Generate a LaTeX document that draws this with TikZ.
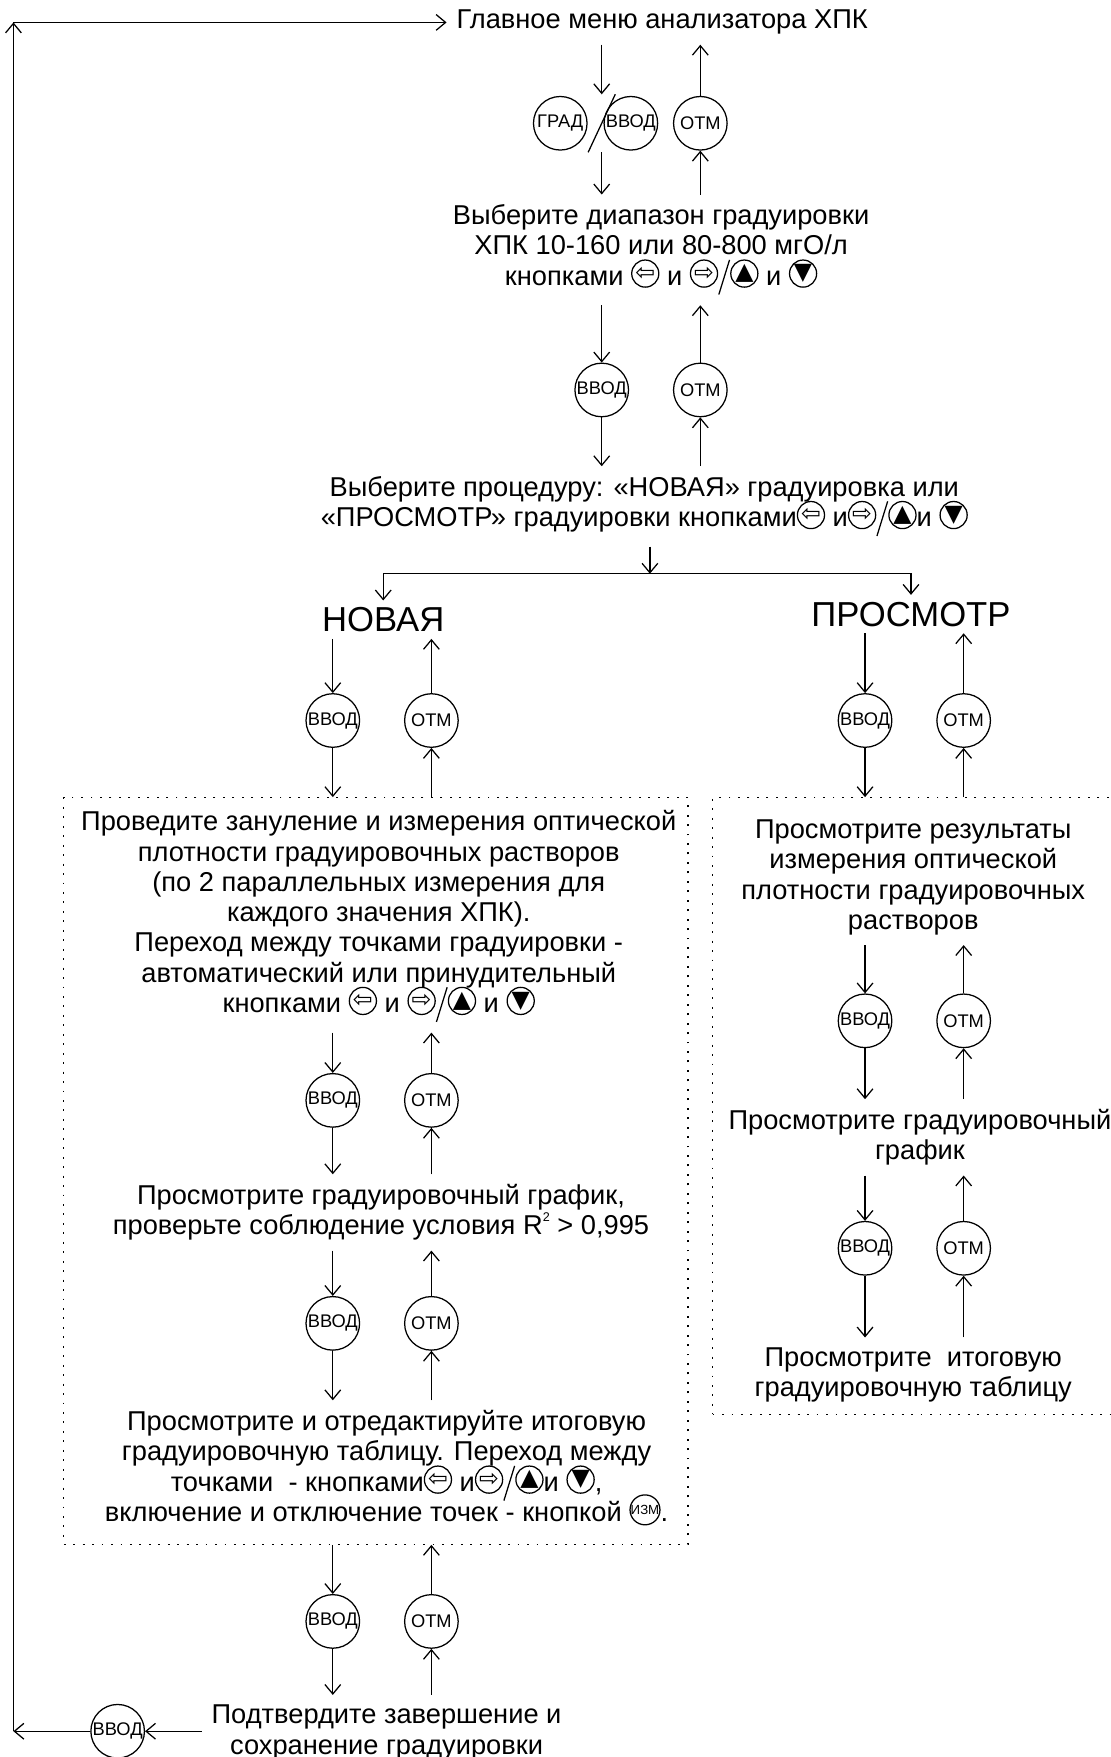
\documentclass[tikz,border=0pt]{standalone}
\usepackage{fontspec}
\setmainfont{Liberation Sans}
\newfontfamily\symfont{DejaVu Sans}
\usetikzlibrary{arrows.meta}
\newcommand\tightlines{\lineskiplimit=-10pt\relax}

\tikzset{
  txt/.style={align=center,inner sep=3pt,font=\fontsize{8.65}{9.6}\selectfont\tightlines},
  big/.style={inner sep=2pt,font=\fontsize{11}{13}\selectfont},
  key/.style={circle,draw,inner sep=0pt,minimum size=17pt,font=\fontsize{5.8}{6}\selectfont},
  frame/.style={draw,dash pattern=on 0.6pt off 2.4pt,inner sep=0pt},
  fl/.style={-{Straight Barb[length=3pt,width=5pt]}},
}
% inline buttons
\newcommand\kb[1]{\tikz[baseline=-0.8ex]\node[circle,draw,inner sep=0pt,minimum size=8.6pt,font=\symfont\fontsize{7.5}{7.5}\selectfont]{#1};}
\newcommand\kslash{\tikz[baseline=0pt]\draw (0pt,-3pt) -- (3.4pt,8pt);}
\newcommand\izm{\tikz[baseline=-0.8ex]\node[circle,draw,inner sep=0pt,minimum size=8pt,font=\fontsize{4.2}{4.2}\selectfont]{ИЗМ};}

\begin{document}
\begin{tikzpicture}[x=0.0125cm,y=-0.0125cm]
\useasboundingbox (0,0) rectangle (991,1568);
% top
\node[txt] (t0) at (591,20) {Главное меню анализатора ХПК};
\node[key] (c0a) at (500,110) {ГРАД};
\node[key] (c0b) at (563,110) {ВВОД};
\node[key] (c0c) at (625,110) {ОТМ};
\node[minimum width=8.2pt,minimum height=18pt,inner sep=0pt] (sw) at (537,110) {};
\draw (sw.south west) -- (sw.north east);
\node[txt] (t1) at (590,223) {Выберите диапазон градуировки\\ХПК 10-160 или 80-800 мгО/л\\кнопками \kb{⇦} и \kb{⇨}\kslash\kb{▲} и \kb{▼}};
\draw[fl] (t0.south -| sw) -- (sw.north);
\draw[fl] (sw.south) -- (t1.north -| sw);
\draw[fl] (t1.north -| c0c) -- (c0c);
\draw[fl] (c0c) -- (t0.south -| c0c);
\node[key] (c1a) at (537,348) {ВВОД};
\node[key] (c1b) at (625,348) {ОТМ};
\node[txt] (t2) at (575,452) {Выберите процедуру: «НОВАЯ» градуировка или\\«ПРОСМОТР» градуировки кнопками\kb{⇦} и\kb{⇨}\kslash\kb{▲}и \kb{▼}};
\draw[fl] (t1.south -| c1a) -- (c1a);
\draw[fl] (c1a) -- (t2.north -| c1a);
\draw[fl] (t2.north -| c1b) -- (c1b);
\draw[fl] (c1b) -- (t1.south -| c1b);
% branch
\coordinate (br) at (580,512);
\node[big] (n1) at (342,553) {НОВАЯ};
\node[big] (p1) at (813,548) {ПРОСМОТР};
\draw[fl] (t2.south -| br) -- (br);
\draw[fl] (br) -| (n1);
\draw[fl] (br) -| (p1);
% left column
\node[key] (c2a) at (297,643) {ВВОД};
\node[key] (c2b) at (385,643) {ОТМ};
\node[frame,minimum width=6.9625cm,minimum height=8.325cm] (b1) at (335.5,1045) {};
\draw[fl] (n1.south -| c2a) -- (c2a);
\draw[fl] (c2a) -- (b1.north -| c2a);
\draw[fl] (b1.north -| c2b) -- (c2b);
\draw[fl] (c2b) -- (n1.south -| c2b);
\node[txt] (t3) at (338,818) {Проведите зануление и измерения оптической\\плотности градуировочных растворов\\(по 2 параллельных измерения для\\каждого значения ХПК).\\Переход между точками градуировки -\\автоматический или принудительный\\кнопками \kb{⇦} и \kb{⇨}\kslash\kb{▲} и \kb{▼}};
\node[key] (c3a) at (297,982) {ВВОД};
\node[key] (c3b) at (385,982) {ОТМ};
\node[txt] (t4) at (340,1082) {Просмотрите градуировочный график,\\проверьте соблюдение условия R\raisebox{0.9ex}{\fontsize{4}{4}\selectfont 2} > 0,995};
\draw[fl] (t3.south -| c3a) -- (c3a);
\draw[fl] (c3a) -- (t4.north -| c3a);
\draw[fl] (t4.north -| c3b) -- (c3b);
\draw[fl] (c3b) -- (t3.south -| c3b);
\node[key] (c4a) at (297,1181) {ВВОД};
\node[key] (c4b) at (385,1181) {ОТМ};
\node[txt] (t5) at (345,1310) {Просмотрите и отредактируйте итоговую\\градуировочную таблицу. Переход между\\точками \ - кнопками\kb{⇦} и\kb{⇨}\kslash\kb{▲}и \kb{▼},\\включение и отключение точек - кнопкой \izm.};
\draw[fl] (t4.south -| c4a) -- (c4a);
\draw[fl] (c4a) -- (t5.north -| c4a);
\draw[fl] (t5.north -| c4b) -- (c4b);
\draw[fl] (c4b) -- (t4.south -| c4b);
\node[key] (c5a) at (297,1447) {ВВОД};
\node[key] (c5b) at (385,1447) {ОТМ};
\node[txt] (t6) at (345,1546) {Подтвердите завершение и\\сохранение градуировки};
\draw[fl] (b1.south -| c5a) -- (c5a);
\draw[fl] (c5a) -- (t6.north -| c5a);
\draw[fl] (t6.north -| c5b) -- (c5b);
\draw[fl] (c5b) -- (b1.south -| c5b);
% return loop
\node[key] (c6) at (105,1545) {ВВОД};
\coordinate (bl) at (12,1545);
\coordinate (tl) at (12,20);
\draw[fl] (t6.west |- c6) -- (c6);
\draw[fl] (c6) -- (bl);
\draw[fl] (bl) -- (tl);
\draw[fl] (tl) -- (t0);
% right column
\node[key] (c2c) at (772,643) {ВВОД};
\node[key] (c2d) at (860,643) {ОТМ};
\node[frame,minimum width=4.675cm,minimum height=6.875cm] (b2) at (823,987) {};
\draw[fl] (p1.south -| c2c) -- (c2c);
\draw[fl] (c2c) -- (b2.north -| c2c);
\draw[fl] (b2.north -| c2d) -- (c2d);
\draw[fl] (c2d) -- (p1.south -| c2d);
\node[txt] (t7) at (815,783) {Просмотрите результаты\\измерения оптической\\плотности градуировочных\\растворов};
\node[key] (c7a) at (772,911) {ВВОД};
\node[key] (c7b) at (860,911) {ОТМ};
\node[txt] (t8) at (821,1015) {Просмотрите градуировочный\\график};
\draw[fl] (t7.south -| c7a) -- (c7a);
\draw[fl] (c7a) -- (t8.north -| c7a);
\draw[fl] (t8.north -| c7b) -- (c7b);
\draw[fl] (c7b) -- (t7.south -| c7b);
\node[key] (c8a) at (772,1114) {ВВОД};
\node[key] (c8b) at (860,1114) {ОТМ};
\node[txt] (t9) at (815,1227) {Просмотрите \ итоговую\\градуировочную таблицу};
\draw[fl] (t8.south -| c8a) -- (c8a);
\draw[fl] (c8a) -- (t9.north -| c8a);
\draw[fl] (t9.north -| c8b) -- (c8b);
\draw[fl] (c8b) -- (t8.south -| c8b);
\end{tikzpicture}
\end{document}
